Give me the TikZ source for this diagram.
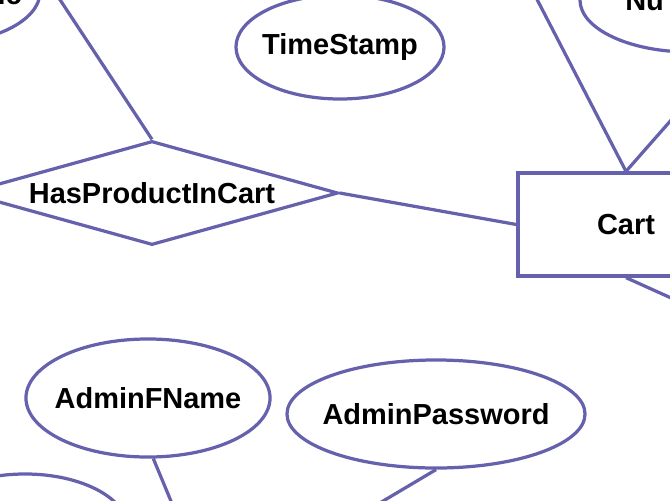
\documentclass[tikz,border=0pt]{standalone}
\usepackage{fontspec}
\setmainfont{Liberation Sans}
\usepackage{xcolor}
\usepackage{tikz}
\usetikzlibrary{shapes.geometric}
\definecolor{erc}{RGB}{102,97,173}
\newcommand{\erfont}{\fontsize{20.6}{24}\selectfont\bfseries}
\tikzset{
  erattr/.style={ellipse,draw=erc,line width=2.3pt,inner sep=0pt},
  erent/.style={rectangle,draw=erc,line width=2.3pt,inner sep=0pt},
  errel/.style={diamond,draw=erc,line width=2.3pt,inner sep=0pt},
  erlink/.style={draw=erc,line width=2.3pt},
  every label/.style={font=\erfont}
}
\begin{document}
\begin{tikzpicture}[x=0.025cm,y=-0.025cm]
  \useasboundingbox (0,0) rectangle (670,500);
  \clip (0,0) rectangle (670,500);
  \node[erattr,minimum width=5.25cm,minimum height=2.6cm] (pic) at (-65,-8) {};
  \node[font=\erfont,anchor=base east,inner sep=0pt] (pictxt) at (22,4) {ic};
  \node[erattr,minimum width=5.2cm,minimum height=2.6cm,label=center:TimeStamp] (ts) at (340,47) {};
  \node[erattr,minimum width=5.5cm,minimum height=2.6cm] (num) at (690,0) {};
  \node[font=\erfont,anchor=base west,inner sep=0pt] (numtxt) at (625,11) {Nu};
  \node[errel,minimum width=9.3cm,minimum height=2.6cm,label=center:HasProductInCart] (rel) at (152,193) {};
  \node[erent,minimum width=5.4cm,minimum height=2.575cm,label=center:Cart] (cart) at (626,224.5) {};
  \node[erattr,minimum width=6.1cm,minimum height=2.95cm,label=center:AdminFName] (afn) at (148,398) {};
  \node[erattr,minimum width=7.45cm,minimum height=2.7cm,label=center:AdminPassword] (apw) at (436,414) {};
  \node[erattr,minimum width=5.15cm,minimum height=2.75cm] (aid) at (25,529) {};
  \coordinate (prod) at (47,-20);
  \coordinate (up) at (527,-20);
  \coordinate (right) at (680,110);
  \coordinate (down) at (680,302);
  \coordinate (admin) at (213,602);
  \draw[erlink] (rel.north) -- (prod);
  \draw[erlink] (rel.east) -- (cart.west);
  \draw[erlink] (cart.north) -- (up);
  \draw[erlink] (cart.north) -- (right);
  \draw[erlink] (cart.south) -- (down);
  \draw[erlink] (afn.-85) -- (admin);
  \draw[erlink] (apw.south) -- (admin);
\end{tikzpicture}
\end{document}
